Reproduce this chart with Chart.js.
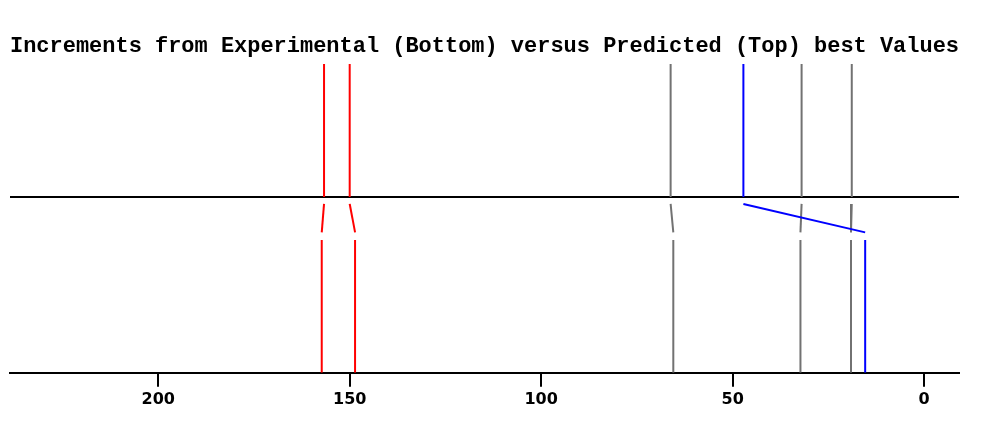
<!DOCTYPE html>
<html>
<head>
<meta charset="utf-8">
<script src="https://cdn.jsdelivr.net/npm/chart.js@4"></script>
<style>
html,body{margin:0;padding:0;background:#fff;}
#wrap{width:999px;height:426px;}
</style>
</head>
<body>
<div id="wrap"><canvas id="c" width="999" height="426"></canvas></div>
<script>
// Data
const titleText = 'Increments from Experimental (Bottom) versus Predicted (Top) best Values';
const predicted    = [156.7, 150.0, 66.2, 47.2, 32.0, 18.9];
const experimental = [157.3, 148.6, 65.5, 15.4, 32.3, 19.1];
const seriesColors = ['#ff0000', '#ff0000', '#727272', '#0000ff', '#727272', '#727272'];
const tickValues   = [200, 150, 100, 50, 0];
const xRange       = [-9.1, 238.7];

// Vertical layout levels (style, not data)
const LV = { top: 309, mid: 176, connTop: 169, connBot: 140.5, botTop: 133, base: 0 };

const datasets = [];
predicted.forEach((p, i) => {
  const e = experimental[i];
  const col = seriesColors[i];
  const mk = (pts) => ({
    data: pts, borderColor: col, borderWidth: 2, pointRadius: 0,
    showLine: true, fill: false, tension: 0
  });
  datasets.push(mk([{x: p, y: LV.mid}, {x: p, y: LV.top}]));
  datasets.push(mk([{x: p, y: LV.connTop}, {x: e, y: LV.connBot}]));
  datasets.push(mk([{x: e, y: LV.base}, {x: e, y: LV.botTop}]));
});
datasets.push({
  data: [{x: xRange[1], y: LV.mid}, {x: xRange[0], y: LV.mid}],
  borderColor: '#000', borderWidth: 2, pointRadius: 0, showLine: true, fill: false
});

new Chart(document.getElementById('c'), {
  type: 'scatter',
  data: { datasets },
  options: {
    responsive: false,
    animation: false,
    layout: { padding: { left: 10, right: 40, top: 0, bottom: 14 } },
    plugins: {
      legend: { display: false },
      tooltip: { enabled: false },
      title: {
        display: true,
        text: titleText,
        color: '#000',
        font: { family: '"Liberation Mono", "Courier New", monospace', size: 22, weight: 'bold' },
        padding: { top: 33, bottom: 4.6 }
      }
    },
    scales: {
      x: {
        type: 'linear',
        reverse: true,
        min: xRange[0],
        max: xRange[1],
        afterBuildTicks: (s) => { s.ticks = tickValues.map(v => ({ value: v })); },
        grid: { display: true, drawOnChartArea: false, drawTicks: true, tickLength: 14, color: '#000', lineWidth: 2 },
        border: { display: true, color: '#000', width: 2 },
        ticks: {
          color: '#000',
          padding: 3,
          maxRotation: 0,
          font: { family: '"DejaVu Sans", sans-serif', size: 16, weight: 'bold' }
        }
      },
      y: {
        display: false,
        min: 0,
        max: LV.top
      }
    }
  }
});
</script>
</body>
</html>
